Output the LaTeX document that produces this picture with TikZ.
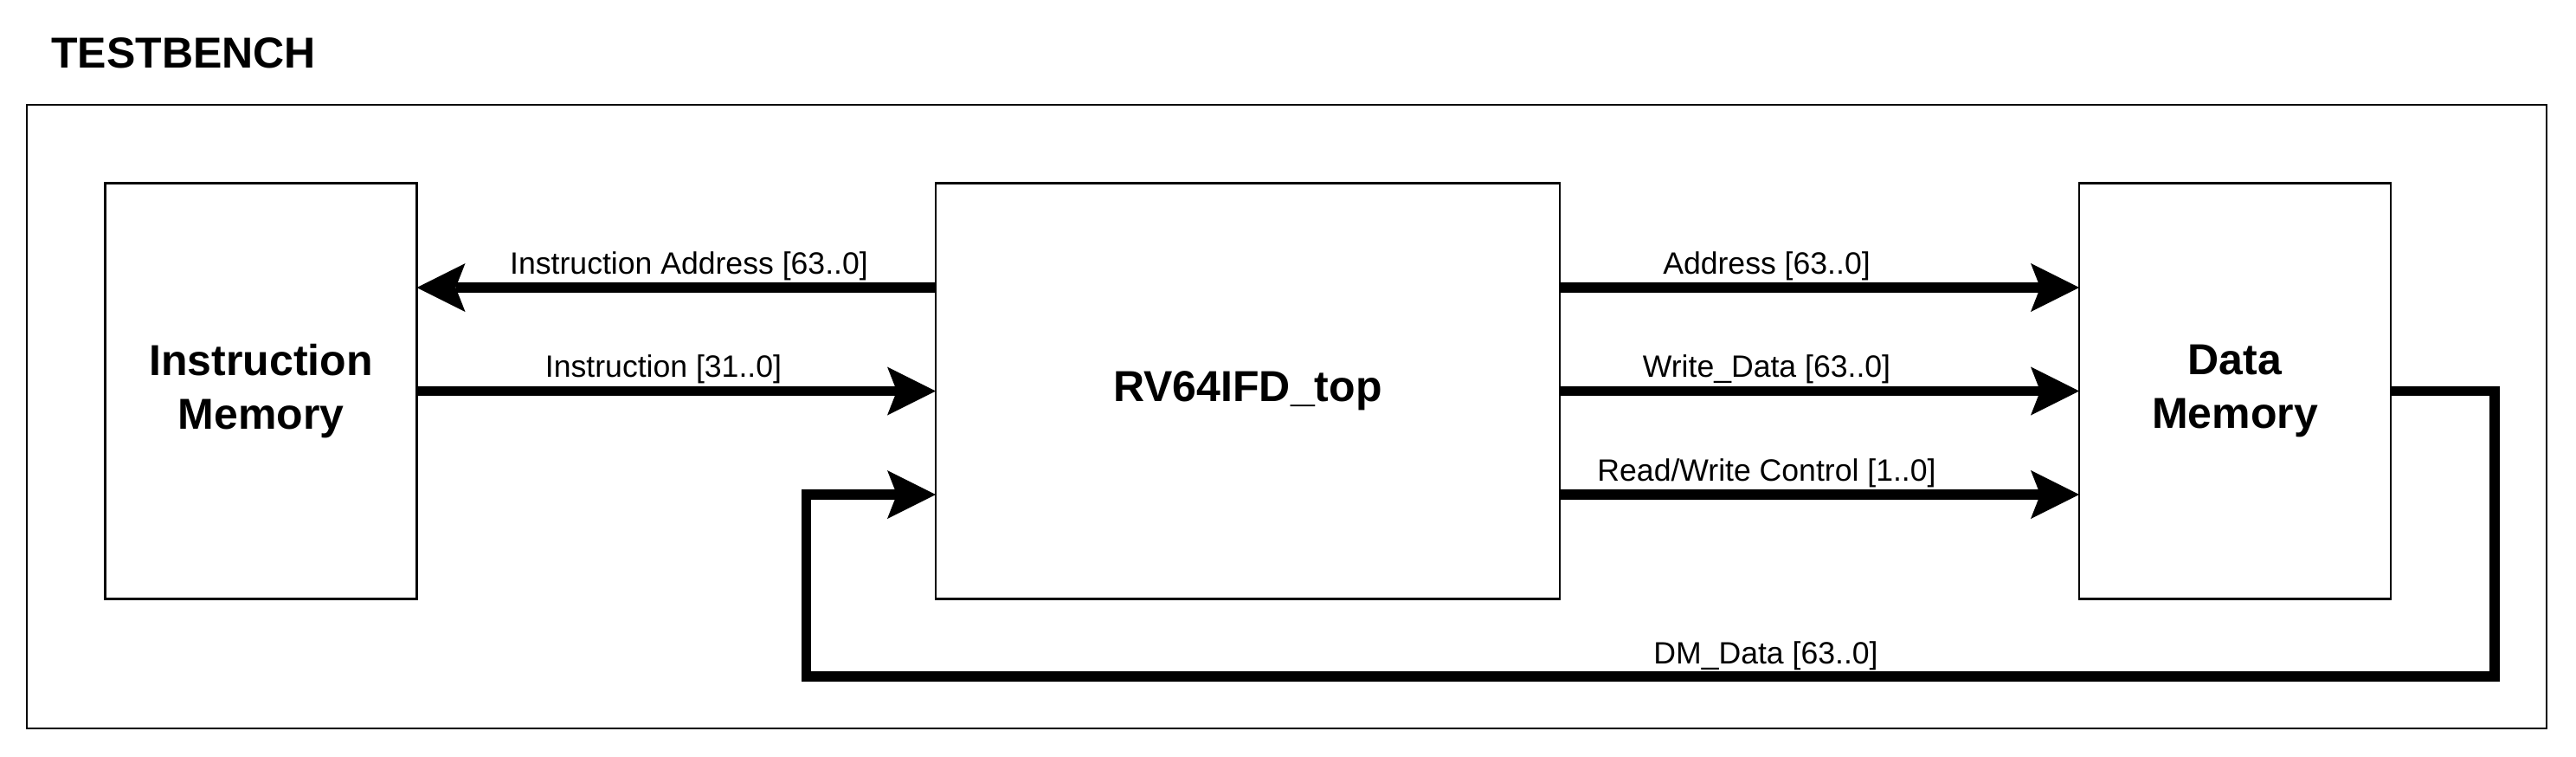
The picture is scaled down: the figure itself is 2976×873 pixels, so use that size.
\documentclass[tikz,border=0pt]{standalone}
\usepackage{fontspec}
\setmainfont{Liberation Sans}
\usetikzlibrary{arrows.meta}
\newcommand{\dnline}[1]{\raisebox{-1.9pt}{#1}}
\begin{document}
\begin{tikzpicture}[x=0.5pt,y=-0.5pt,
  block/.style={draw, line width=1.35pt, minimum width=180pt, minimum height=240pt,
    outer sep=0pt, inner sep=0pt, align=center, font=\bfseries\fontsize{25}{30.8}\selectfont},
  bus/.style={line width=5.85pt, line join=miter,
    -{Stealth[length=28pt,width=28pt,inset=5.5pt,line width=0pt]}},
  lbl/.style={font=\fontsize{17.8}{20}\selectfont, anchor=base, inner sep=0pt}]
\path[use as bounding box, fill=white] (0,0) rectangle (2976,873);
% frame
\node[draw, line width=1.35pt, minimum width=1455.5pt, minimum height=360pt,
  outer sep=0pt, inner sep=0pt] (tb) at (1486.5,481) {};
\node[font=\bfseries\fontsize{25}{28}\selectfont, anchor=base west, inner sep=0pt] (tbl) at (59,78) {TESTBENCH};
% blocks
\node[block] (im) at (301.5,451.5) {\dnline{Instruction}\\\dnline{Memory}};
\node[block, minimum width=360.5pt] (rv) at (1441.5,451.5) {\raisebox{-0.8pt}{RV64IFD\_top}};
\node[block] (dm) at (2582,451.5) {\dnline{Data}\\\dnline{Memory}};
% rows
\coordinate (r1) at (0,332);
\coordinate (r2) at (0,451.5);
\coordinate (r3) at (0,571);
\coordinate (r4) at (0,781);
\coordinate (fbx) at (2882,0);
\coordinate (fbl) at (931.5,0);
% connectors
\draw[bus] (rv.west |- r1) -- (im.east |- r1);
\draw[bus] (im.east |- r2) -- (rv.west |- r2);
\draw[bus] (rv.east |- r1) -- (dm.west |- r1);
\draw[bus] (rv.east |- r2) -- (dm.west |- r2);
\draw[bus] (rv.east |- r3) -- (dm.west |- r3);
\draw[bus] (dm.east |- r2) -- (fbx |- r2) -- (fbx |- r4) -- (fbl |- r4) -- (fbl |- r3) -- (rv.west |- r3);
% labels
\node[lbl] (l1) at (796,316) {Instruction Address [63..0]};
\node[lbl] (l2) at (766.5,435) {Instruction [31..0]};
\node[lbl] (l3) at (2041,316) {Address [63..0]};
\node[lbl] (l4) at (2041,435) {Write\_Data [63..0]};
\node[lbl] (l5) at (2041,555) {Read/Write Control [1..0]};
\node[lbl] (l6) at (2040,766) {DM\_Data [63..0]};
\end{tikzpicture}
\end{document}
